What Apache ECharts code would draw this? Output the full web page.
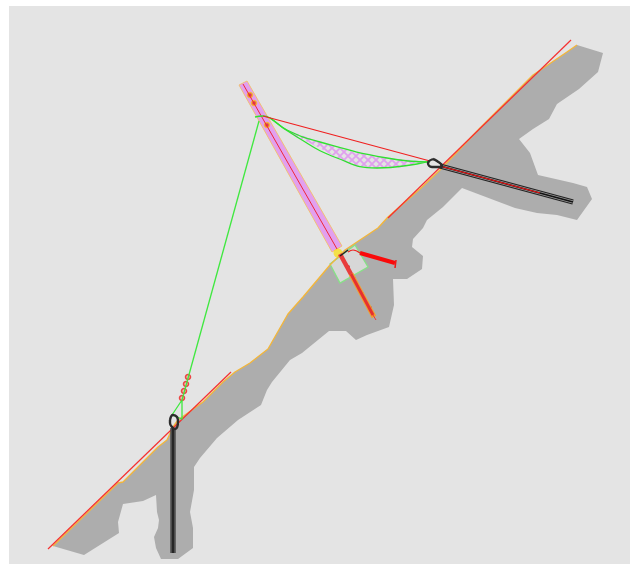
<!DOCTYPE html>
<html><head><meta charset="utf-8">
<style>html,body{margin:0;padding:0;background:#fff}#c{width:630px;height:564px}</style>
<script src="https://cdn.jsdelivr.net/npm/echarts@6/dist/echarts.min.js"></script>
</head><body><div id="c"></div>
<script>
var landOutline = [[53,546],[118,483],[123,482],[158,447],[167,440],[173,427],[178,420],[203,402],[223,382],[235,372],[250,363],[268,349],[288,314],[303,297],[330,265],[345,250],[378,228],[388,217],[420,189],[440,170],[480,128],[533,75],[567,52],[577,45],[603,53],[598,72],[579,89],[557,104],[549,119],[533,129],[519,139],[530,153],[538,175],[573,183],[587,187],[592,199],[577,220],[557,215],[537,213],[515,208],[462,188],[443,207],[427,220],[423,228],[413,239],[412,247],[423,256],[422,269],[407,279],[393,279],[394,305],[389,327],[367,335],[356,340],[346,331],[329,331],[302,353],[290,360],[272,382],[267,390],[261,405],[238,420],[217,438],[200,458],[194,467],[194,490],[190,512],[193,528],[193,548],[178,559],[161,559],[156,548],[154,537],[158,528],[159,520],[157,512],[156,495],[143,501],[123,504],[118,522],[119,533],[84,555]];
var shoreline = [[53,546],[118,483],[123,482],[158,447],[167,440],[173,427],[178,420],[203,402],[223,382],[235,372],[250,363],[268,349],[288,314],[303,297],[330,265],[345,250],[378,228],[388,217],[420,189],[440,170],[480,128],[533,75],[567,52],[577,45]];
var southRedLine = [[48,549],[231,372]];
var northRedLine = [[388,218],[571,40]];
var pinkBand = [[239,85],[247,81],[342,246],[332,252]];
var bandCentre = [[243,84],[337,249]];
var bandDots = [[250,95],[254,103],[267,125]];
var greenLong = [[259,121],[182,400]];
var greenTriangle = [[182,400],[172,415],[182,419],[182,400]];
var ringMarks = [[188,377],[186,384],[184,391],[182,398]];
var hatchTop = [[270,118],[287,130],[320,142],[353,152],[387,158],[410,160],[430,162]];
var hatchLow = [[270,118],[275,122],[297,137],[320,148],[337,158],[353,165],[377,168],[397,168],[417,164],[430,161]];
var curveTop = [[255,117],[263,116],[270,118],[287,130],[320,142],[387,158],[430,162]];
var curveLow = [[270,118],[297,137],[337,158],[377,168],[417,164],[430,161]];
var redChord = [[263,116],[430,161]];
var southCable = [[173,428],[173,553]];
var northCable = [[440,166],[573,202]];
var northCableRed = [[440,166],[540,193]];
var southLoop = [[170,420],[173,415],[177,417],[178,421],[175,429],[173,428],[170,423],[170,420]];
var northLoop = [[433,159],[428,163],[432,167],[441,167],[442,166],[437,161],[433,159]];
var square = [[330,264],[340,283],[368,267],[355,245]];
var redSpine = [[340,254],[352,276]];
var orangeSpine = [[351,274],[374,317]];
var redSpineCore = [[351,274],[373,315]];
var spineTip = [[373,315],[376,320]];
var spineKnots = [[348,267],[354,279],[362,294],[370,308]];
var wedge = [[360,253],[395,263]];
var wedgeBar = [[396,260],[395,268]];
var wedgeLead = [[348,252],[353,250],[360,253]];
var junctionDark = [[340,256],[348,250]];
var junctionYellow = [[338,253]];

var hatch = document.createElement('canvas');
hatch.width = hatch.height = 8;
var g = hatch.getContext('2d');
g.strokeStyle = '#e0a0ee'; g.lineWidth = 1.8;
g.beginPath();
g.moveTo(-1,-1); g.lineTo(9,9);
g.moveTo(-1,9); g.lineTo(9,-1);
g.stroke();

function poly(points, fill, stroke, width) {
  return {type:'custom', silent:true, coordinateSystem:'cartesian2d', data:[points[0]],
    renderItem:function(p, api){
      return {type:'polygon', shape:{points:points.map(function(q){return api.coord(q);})},
        style:{fill:fill, stroke:stroke||null, lineWidth:width||0}};
    }};
}
function line(points, color, width, smooth, cap) {
  return {type:'line', silent:true, data:points, symbol:'none', smooth:smooth||false,
    lineStyle:{color:color, width:width, cap:cap||'butt', join:'round'}};
}
function dots(points, size, fill, stroke, width) {
  return {type:'scatter', silent:true, data:points, symbol:'circle', symbolSize:size,
    itemStyle:{color:fill, borderColor:stroke, borderWidth:width}};
}

var hatchArea = hatchTop.concat(hatchLow.slice().reverse());

var series = [
  poly(landOutline, '#adadad'),
  line(shoreline, '#f2b63c', 1.4),
  line(southRedLine, '#f53030', 1.2),
  line(northRedLine, '#f53030', 1.2),
  poly(pinkBand, '#e2a0ee', '#f3c069', 0.9),
  line(bandCentre, '#ee2838', 1),
  dots(bandDots, 5, '#e0202a', '#f8c020', 1.5),
  line(greenLong, '#3fe83f', 1.3),
  line(greenTriangle, '#3fe83f', 1.3),
  dots(ringMarks, 5, '#e8b8a0', '#ee2020', 1.5),
  poly(hatchArea, {image:hatch, repeat:'repeat'}),
  line(curveTop, '#30e030', 1.3, 0.5),
  line(curveLow, '#30e030', 1.3, 0.5),
  line(redChord, '#f02020', 1.2),
  line(southCable, '#4c4c4c', 5.5),
  line(southCable, '#1a1a1a', 1.5),
  line(northCable, '#222222', 5),
  line(northCable, '#9a9a9a', 3),
  line(northCable, '#111111', 1.6),
  line(northCableRed, '#f01818', 1.2),
  line(southLoop, '#2c2c2c', 2.4, 0.5),
  line(northLoop, '#2c2c2c', 2.4, 0.5),
  poly(square, '#d7d7d7', '#86e286', 1.3),
  line(redSpine, '#e83c3c', 4.5),
  line(orangeSpine, '#f2a030', 5),
  line(redSpineCore, '#e63030', 3),
  line(spineTip, '#ee3a3a', 1),
  dots(spineKnots, 4, '#b81818', '#b81818', 0),
  dots(junctionYellow, 9, '#f8e020', '#f8e020', 0),
  line(wedge, '#fa0a0a', 4),
  line(wedgeBar, '#f01818', 1.5),
  line(wedgeLead, '#ee2020', 1.2, 0.4),
  line(junctionDark, '#222222', 1.4)
];

var chart = echarts.init(document.getElementById('c'), null, {width:630, height:564});
chart.setOption({
  animation:false,
  backgroundColor:'#ffffff',
  grid:{left:9, top:6, right:0, bottom:0, show:true, backgroundColor:'#e4e4e4', borderWidth:0},
  xAxis:{type:'value', min:9, max:630, show:false},
  yAxis:{type:'value', min:6, max:564, inverse:true, show:false},
  tooltip:{show:false},
  series:series
});
</script></body></html>
